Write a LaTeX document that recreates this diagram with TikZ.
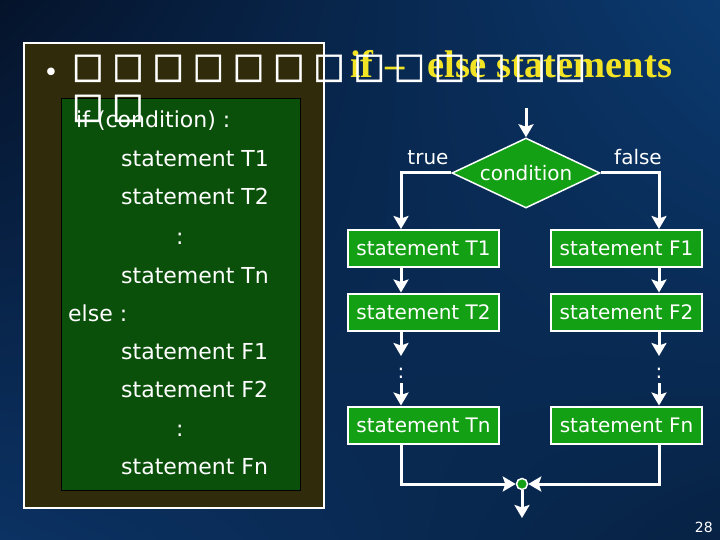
\documentclass[tikz,border=0pt]{standalone}
\usepackage{fontspec}
\setmainfont{DejaVu Sans}
\newfontfamily\ttlfont{Liberation Serif}
\newfontfamily\tofufont{DejaVu Sans}[FakeBold=1.5]
\usetikzlibrary{arrows.meta,shapes.geometric,calc,shadings}
\definecolor{panelbg}{HTML}{302B0A}
\definecolor{panelgreen}{HTML}{0A500A}
\definecolor{boxgreen}{HTML}{14A014}
\definecolor{ttlyellow}{HTML}{F2E424}
\definecolor{bgA}{HTML}{05132A}
\definecolor{bgB}{HTML}{0B3A70}
\definecolor{bgC}{HTML}{0B3263}
\definecolor{bgD}{HTML}{072244}
\tikzset{
  lefttxt/.style={anchor=base west, text=white, inner sep=0pt, font=\fontsize{22}{22}\selectfont},
  flowbox/.style={draw=white, line width=2pt, fill=boxgreen, minimum width=151pt, minimum height=37pt, inner sep=0pt, text=white, font=\fontsize{20}{20}\selectfont},
  flowlbl/.style={anchor=base, text=white, inner sep=0pt, font=\fontsize{20}{20}\selectfont},
  arr/.style={draw=white, line width=3pt, -{Stealth[length=13pt,width=15pt,inset=2.5pt]}},
  tofu/.style={anchor=south west, inner sep=0pt, text=white},
}
\newcommand{\tofuchar}{\scalebox{1}[1.07]{\tofufont\fontsize{33}{33}\selectfont □}}
\begin{document}
\begin{tikzpicture}[x=1pt,y=-1pt]
\useasboundingbox (0,0) rectangle (720,540);
\shade[upper left=bgA, upper right=bgB, lower left=bgC, lower right=bgD] (0,0) rectangle (720,540);

% left panel
\draw[draw=white, line width=2pt, fill=panelbg] (24,43) rectangle (324,508);
\draw[draw=black, line width=0.8pt, fill=panelgreen] (61,98) rectangle (300,490);

\node[lefttxt] (l1) at (76,128) {if (condition) :};
\node[lefttxt] (l2) at (121,167) {statement T1};
\node[lefttxt] (l3) at (121,205) {statement T2};
\node[lefttxt] (l4) at (176,244) {:};
\node[lefttxt] (l5) at (121,283) {statement Tn};
\node[lefttxt] (l6) at (68,321) {else :};
\node[lefttxt] (l7) at (121,359) {statement F1};
\node[lefttxt] (l8) at (121,397) {statement F2};
\node[lefttxt] (l9) at (176,436) {:};
\node[lefttxt] (l10) at (121,474) {statement Fn};

% title
\node[anchor=base, text=white, inner sep=0pt, font=\fontsize{26}{26}\selectfont] (bul) at (51,82) {•};
\node[anchor=base west, text=ttlyellow, inner sep=0pt, font=\ttlfont\bfseries\fontsize{38.5}{38.5}\selectfont] (t1) at (350,78) {if\hspace{12pt}–};
\node[anchor=base west, text=ttlyellow, inner sep=0pt, font=\ttlfont\bfseries\fontsize{38.5}{38.5}\selectfont] (t2) at (427,78) {else statements};
\foreach \i in {0,...,12} {
  \node[tofu] (b\i) at ({72+40.2*\i},82) {\tofuchar};
}
\node[tofu] (c0) at (72,122) {\tofuchar};
\node[tofu] (c1) at (112,122) {\tofuchar};

% flowchart
\coordinate (tx) at (401,0);
\coordinate (fx) at (659,0);
\coordinate (start) at (526,108);
\node[diamond, aspect=2.1, draw=white, line width=1.5pt, fill=boxgreen, minimum width=148pt, minimum height=70pt, inner sep=0pt, text=white, font=\fontsize{20}{20}\selectfont] (cond) at (526,173) {condition};
\node[flowlbl] (ltrue) at (428,165) {true};
\node[flowlbl] (lfalse) at (638,165) {false};

\node[flowbox] (T1) at (423.5,248.5) {statement T1};
\node[flowbox] (F1) at (626.5,248.5) {statement F1};
\node[flowbox] (T2) at (423.5,312) {statement T2};
\node[flowbox] (F2) at (626.5,312) {statement F2};
\node[flowbox] (Tn) at (423.5,425) {statement Tn};
\node[flowbox] (Fn) at (626.5,425) {statement Fn};

\node[circle, draw=white, line width=1.5pt, fill=boxgreen, minimum size=11pt, inner sep=0pt] (m) at (522,484) {};
\coordinate (mout) at (522,518);

\draw[arr] (start) -- (cond.north);
\draw[arr] (cond.west) -| (T1.north -| tx);
\draw[arr] (cond.east) -| (F1.north -| fx);
\draw[arr] (T1.south -| tx) -- (T2.north -| tx);
\draw[arr] (F1.south -| fx) -- (F2.north -| fx);

\coordinate (td1) at (401,356);
\coordinate (td2) at (401,383);
\coordinate (fd1) at (659,356);
\coordinate (fd2) at (659,383);
\draw[arr] (T2.south -| tx) -- (td1);
\draw[arr] (F2.south -| fx) -- (fd1);
\node[anchor=base, text=white, inner sep=0pt, font=\fontsize{20}{20}\selectfont] (tdots) at (401,378) {:};
\node[anchor=base, text=white, inner sep=0pt, font=\fontsize{20}{20}\selectfont] (fdots) at (659,378) {:};
\draw[arr] (td2) -- (Tn.north -| tx);
\draw[arr] (fd2) -- (Fn.north -| fx);

\draw[arr] (Tn.south -| tx) |- (m.west);
\draw[arr] (Fn.south -| fx) |- (m.east);
\draw[arr] (m.south) -- (mout);

\node[anchor=base east, text=white, inner sep=0pt, font=\fontsize{14}{14}\selectfont] (pg) at (713,532) {28};
\end{tikzpicture}
\end{document}
